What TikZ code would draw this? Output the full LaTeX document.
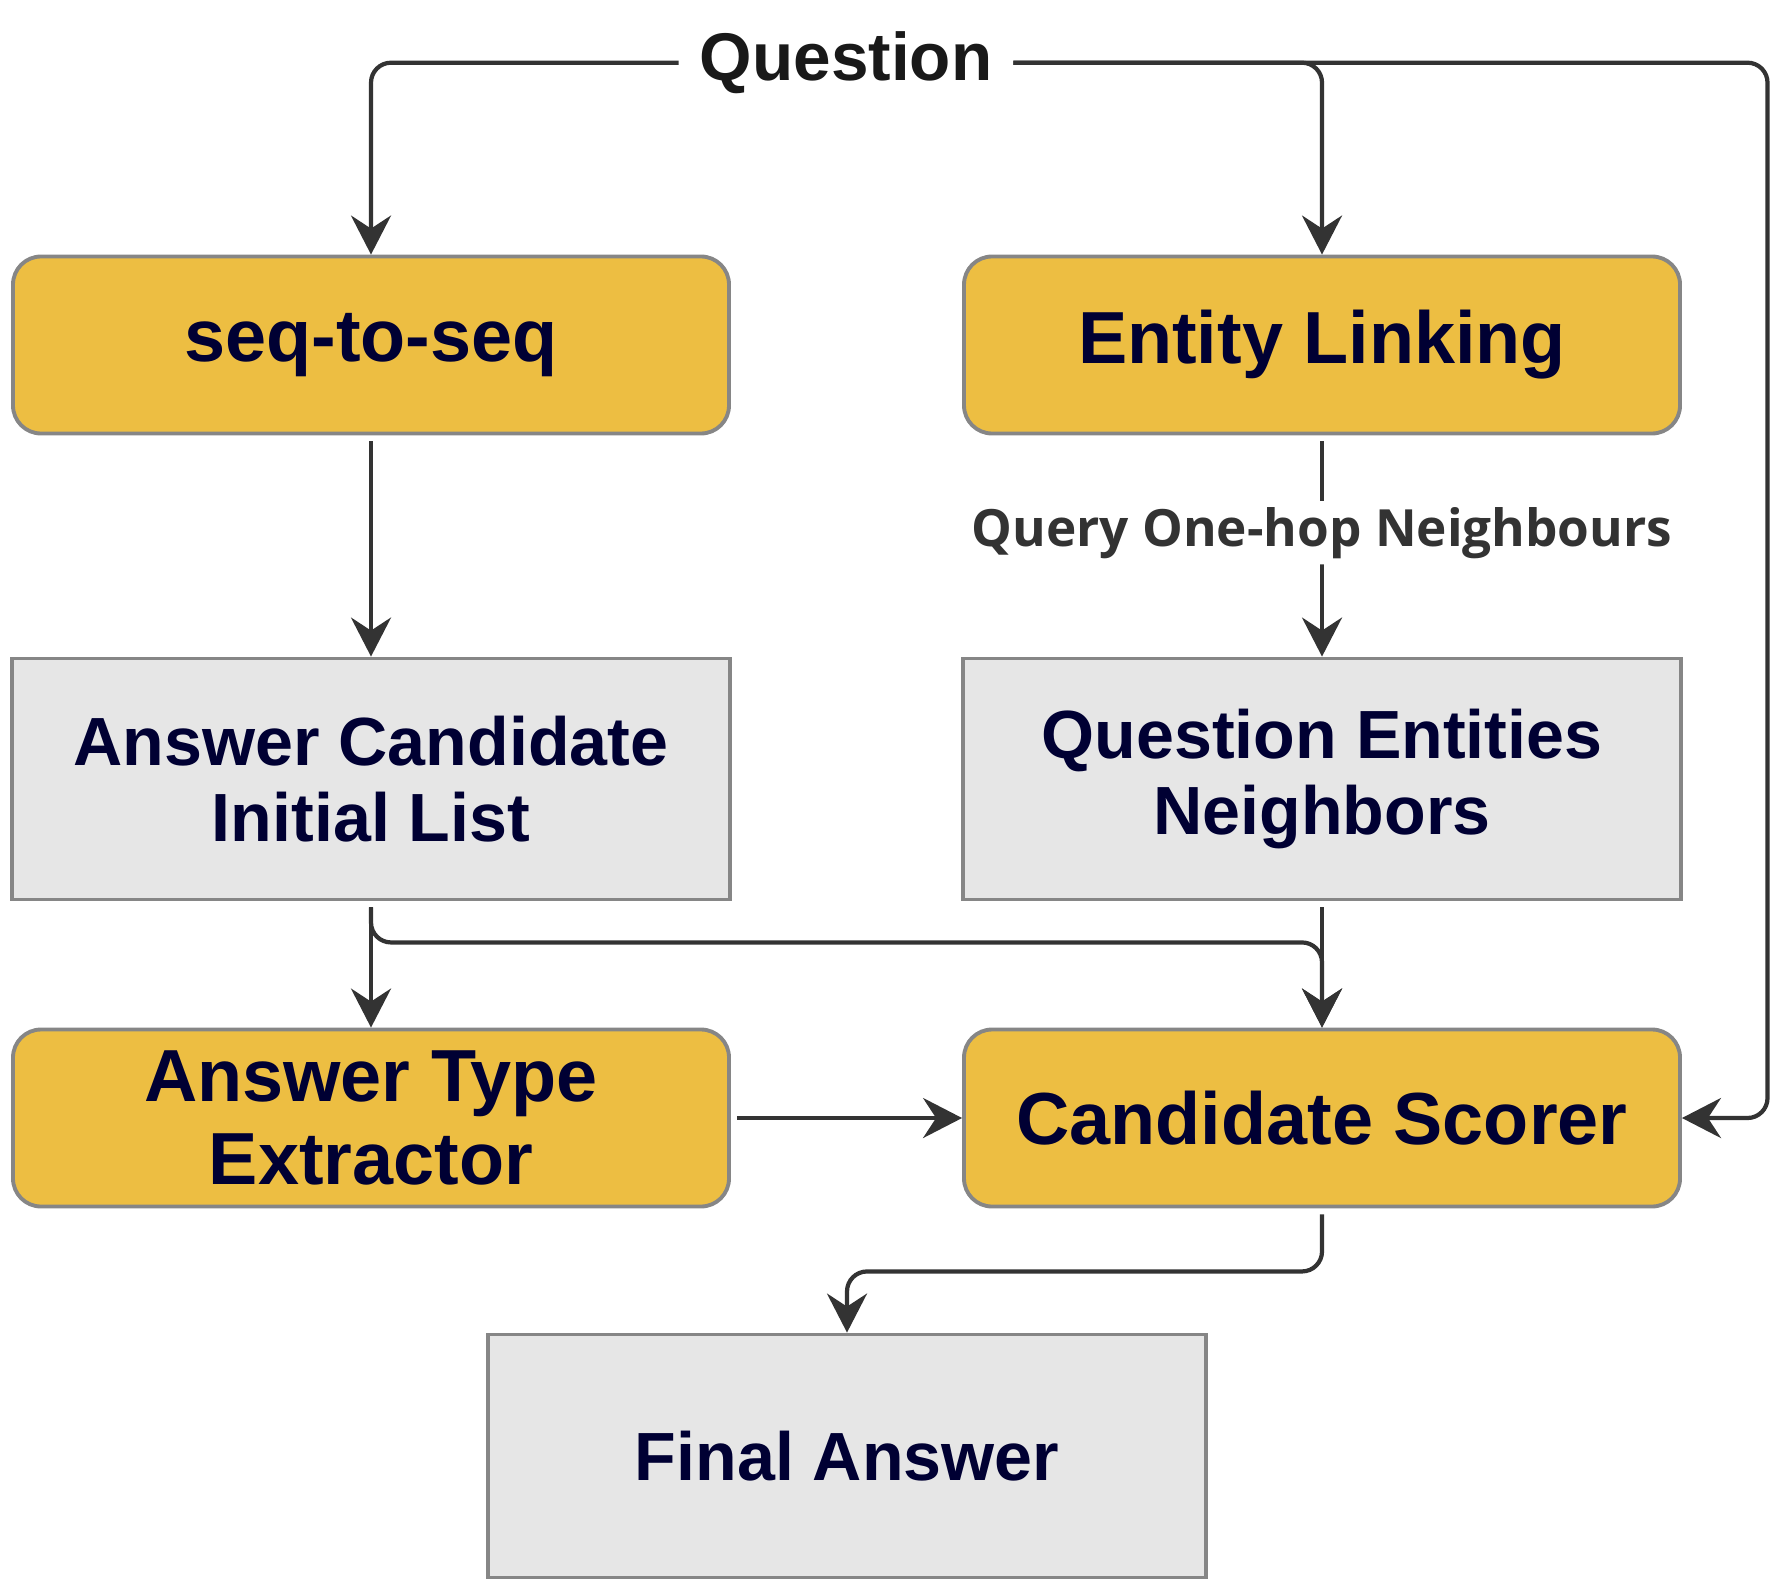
\documentclass[tikz,border=0pt]{standalone}
\usepackage{fontspec}
\setmainfont{Liberation Sans}
\newfontfamily\queryfont{Open Sans}
\usetikzlibrary{arrows.meta, positioning}

\definecolor{boxyellow}{HTML}{EDBE42}
\definecolor{boxgray}{HTML}{E6E6E6}
\definecolor{boxline}{HTML}{868686}
\definecolor{boxtext}{HTML}{000033}
\definecolor{wirecol}{HTML}{333333}

\begin{document}
\begin{tikzpicture}[
            semithick,
            link/.style={
                draw=wirecol,
                line width=1.2pt,
                rounded corners=0.2cm,
                shorten <=0.06cm,
                -{Stealth[length=0.39cm, width=0.4cm, inset=0.13cm]}
            }
        ]

        \useasboundingbox (0,0) rectangle (17.88,-15.94);

        \tikzstyle{yellowbox}=[
            draw=boxline,
            line width=1.1pt,
            fill=boxyellow,
            rounded corners=0.28cm,
            minimum width=7.16cm,
            minimum height=1.77cm,
            align=center,
            text=boxtext,
            font=\fontsize{21}{23.4}\selectfont\bfseries
        ]

        \tikzstyle{graybox}=[
            draw=boxline,
            line width=1.1pt,
            fill=boxgray,
            minimum width=7.18cm,
            minimum height=2.41cm,
            align=center,
            text=boxtext,
            font=\fontsize{19.4}{21.7}\selectfont\bfseries
        ]

        \node[inner xsep=0.14cm, inner ysep=0pt, text=black!90,
              font=\fontsize{19.2}{22}\selectfont\bfseries] (q) at (8.46,-0.627) {Question};

        \node[yellowbox] (seq) at (3.71,-3.45) {seq-to-seq};
        \node[yellowbox] (el) at (13.22,-3.45) {Entity Linking};

        \node[graybox] (acil) at (3.71,-7.79) {Answer Candidate\\Initial List};
        \node[graybox] (qen) at (13.22,-7.79) {Question Entities\\Neighbors};

        \node[yellowbox] (ate) at (3.71,-11.18) {Answer Type\\Extractor};
        \node[yellowbox] (cs) at (13.22,-11.18) {Candidate Scorer};

        \node[graybox, minimum height=2.43cm] (fa) at (8.47,-14.56) {Final Answer};

        \coordinate (qr) at (17.675,-0.627);

        \draw[link] (q.west) -| (seq.north);
        \draw[link] (q.east) -| (el.north);
        \draw[link] (q.east) -- (qr) |- (cs.east);

        \draw[link] (seq.south) -- (acil.north);
        \draw[link] (el.south) -- node[pos=0.44, fill=white, inner xsep=0.05cm, inner ysep=0.06cm,
            text=wirecol, font=\queryfont\fontsize{14.6}{17}\selectfont\bfseries]
            {Query One-hop Neighbours} (qen.north);

        \draw[link] (acil.south) -- (ate.north);
        \draw[link] (acil.south) -- ++(0,-0.41) -| (cs.north);
        \draw[link] (qen.south) -- (cs.north);

        \draw[link] (ate.east) -- (cs.west);
        \draw[link] (cs.south) -- ++(0,-0.63) -| (fa.north);

    \end{tikzpicture}
\end{document}
